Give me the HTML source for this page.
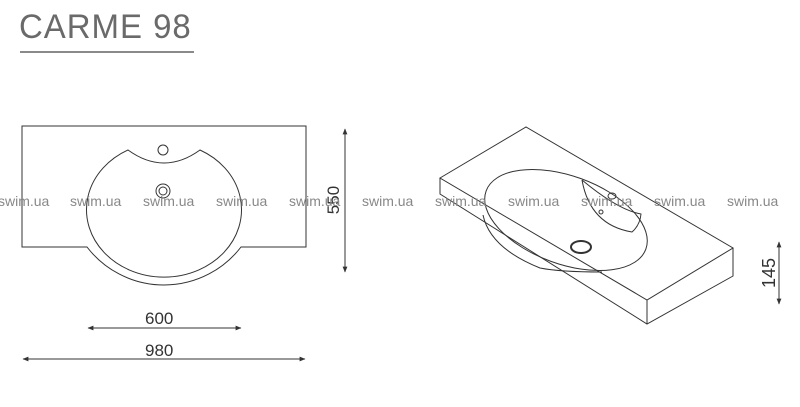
<!DOCTYPE html>
<html><head><style>
body{margin:0;background:#fff;width:800px;height:407px;overflow:hidden;position:relative;font-family:"Liberation Sans",sans-serif}
.t{position:absolute;left:19px;top:8px;font-size:34px;color:#6a6a6a;font-weight:normal;letter-spacing:1px;transform:scaleX(0.97);transform-origin:left}
</style></head><body>
<div class="t">CARME 98</div>
<svg width="800" height="407" style="position:absolute;left:0;top:0">
<defs><marker id="a" viewBox="0 0 10 10" refX="9" refY="5" markerWidth="6" markerHeight="6" orient="auto-start-reverse"><path d="M0,1 L10,5 L0,9z" fill="#333"/></marker></defs>
<line x1="20" y1="52" x2="194" y2="52" stroke="#444" stroke-width="1.3"/>
<g fill="none" stroke="#333" stroke-width="1">
<path d="M22,126 H306 V247 H241 A97,97 0 0 1 87,247 H22 Z"/>
<path d="M128,150 Q164,176 200,150 A77.5,67.4 0 1 1 128,150 Z"/>
<circle cx="163" cy="150" r="5"/>
<circle cx="163" cy="191" r="7"/><circle cx="163" cy="191" r="4"/>
<line x1="345" y1="129" x2="345" y2="272" marker-start="url(#a)" marker-end="url(#a)"/>
<line x1="88" y1="328" x2="241" y2="328" marker-start="url(#a)" marker-end="url(#a)"/>
<line x1="23" y1="359" x2="305" y2="359" marker-start="url(#a)" marker-end="url(#a)"/>
<line x1="779" y1="242" x2="779" y2="304" marker-start="url(#a)" marker-end="url(#a)"/>
<path d="M440,178 L526,127 L733,248 L647,300 Z"/>
<path d="M440,178 V194 L647,324 L733,276 V248"/>
<line x1="647" y1="300" x2="647" y2="324"/>
<ellipse cx="566" cy="220" rx="85" ry="44" transform="rotate(20 566 220)"/>
<path d="M483,215 Q490,248 540,268 Q560,272 602,272"/>
<path d="M582,180 Q590,225 632,232 Q640,225 641,214 Q618,210 582,180"/>
<ellipse cx="581" cy="247" rx="10" ry="6" stroke-width="2"/>
<ellipse cx="612" cy="196" rx="4" ry="3"/>
<circle cx="601" cy="212" r="2"/>
</g>
<g font-size="17" fill="#333">
<text x="145" y="324">600</text>
<text x="145" y="356">980</text>
<text transform="translate(339,200) rotate(-90)" text-anchor="middle">550</text>
<text transform="translate(775,273) rotate(-90)" text-anchor="middle" font-size="18">145</text>
</g>
<g font-size="14" fill="#888">
<text x="-2" y="206">swim.ua</text><text x="70" y="206">swim.ua</text><text x="143" y="206">swim.ua</text><text x="216" y="206">swim.ua</text><text x="289" y="206">swim.ua</text><text x="362" y="206">swim.ua</text><text x="435" y="206">swim.ua</text><text x="508" y="206">swim.ua</text><text x="581" y="206">swim.ua</text><text x="654" y="206">swim.ua</text><text x="727" y="206">swim.ua</text>
</g>
</svg>
</body></html>
